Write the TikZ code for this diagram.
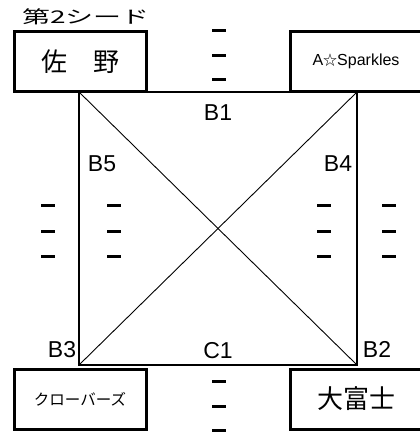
\documentclass[tikz,border=0pt]{standalone}
\usepackage{fontspec}
\setmainfont{Liberation Sans}
\newfontfamily\jp{Noto Sans CJK JP}
\tikzset{
  teambox/.style={draw, line width=3pt, minimum width=132pt, minimum height=60pt, inner sep=0pt},
  court/.style={line width=2.5pt},
  diag/.style={line width=0.9pt},
  tick/.style={line width=3pt},
  lbl/.style={font=\fontsize{23}{23}\selectfont, anchor=base, inner sep=0pt},
}
\begin{document}
\begin{tikzpicture}[x=1pt,y=-1pt]
\useasboundingbox (0,0) rectangle (419,435);
\fill[white] (0,0) rectangle (419,435);
% corners of the court
\coordinate (tl) at (79,92);
\coordinate (tr) at (357,92);
\coordinate (br) at (357,365);
\coordinate (bl) at (79,365);
\draw[diag] (tl) -- (br);
\draw[diag] (tr) -- (bl);
\draw[court] (tl) -- (tr) -- (br) -- (bl) -- cycle;
% team boxes
\node[teambox, font=\jp\fontsize{26}{26}\selectfont] (sano) at (80,62) {佐　野};
\node[teambox, font=\fontsize{16}{16}\selectfont] (spark) at (356,61.5) {A{\jp\fontsize{14}{14}\selectfont ☆}Sparkles};
\node[teambox, font=\jp\fontsize{15.5}{15.5}\selectfont] (clover) at (80,399) {クローバーズ};
\node[teambox, font=\jp\fontsize{26}{26}\selectfont] (ofuji) at (356,399) {大富士};
\node[anchor=base west, inner sep=0pt, font=\jp\fontsize{17.5}{17.5}\selectfont] (seed) at (22,24) {\scalebox{1.6}[1]{第2シード}};
% labels
\node[lbl] (b1) at (218,121) {B1};
\node[lbl] (c1) at (218,358) {C1};
\node[lbl] (b5) at (102,172) {B5};
\node[lbl] (b4) at (338,172) {B4};
\node[lbl] (b3) at (62,357) {B3};
\node[lbl] (b2) at (377,357) {B2};
% dash marks
\foreach \y in {31,56,80} \draw[tick] (212,\y) -- (226,\y);
\foreach \y in {381,406,430} \draw[tick] (212,\y) -- (226,\y);
\foreach \y in {206,231,256} {
  \draw[tick] (41,\y) -- (55,\y);
  \draw[tick] (107,\y) -- (121,\y);
  \draw[tick] (317,\y) -- (331,\y);
  \draw[tick] (382,\y) -- (396,\y);
}
\end{tikzpicture}
\end{document}
